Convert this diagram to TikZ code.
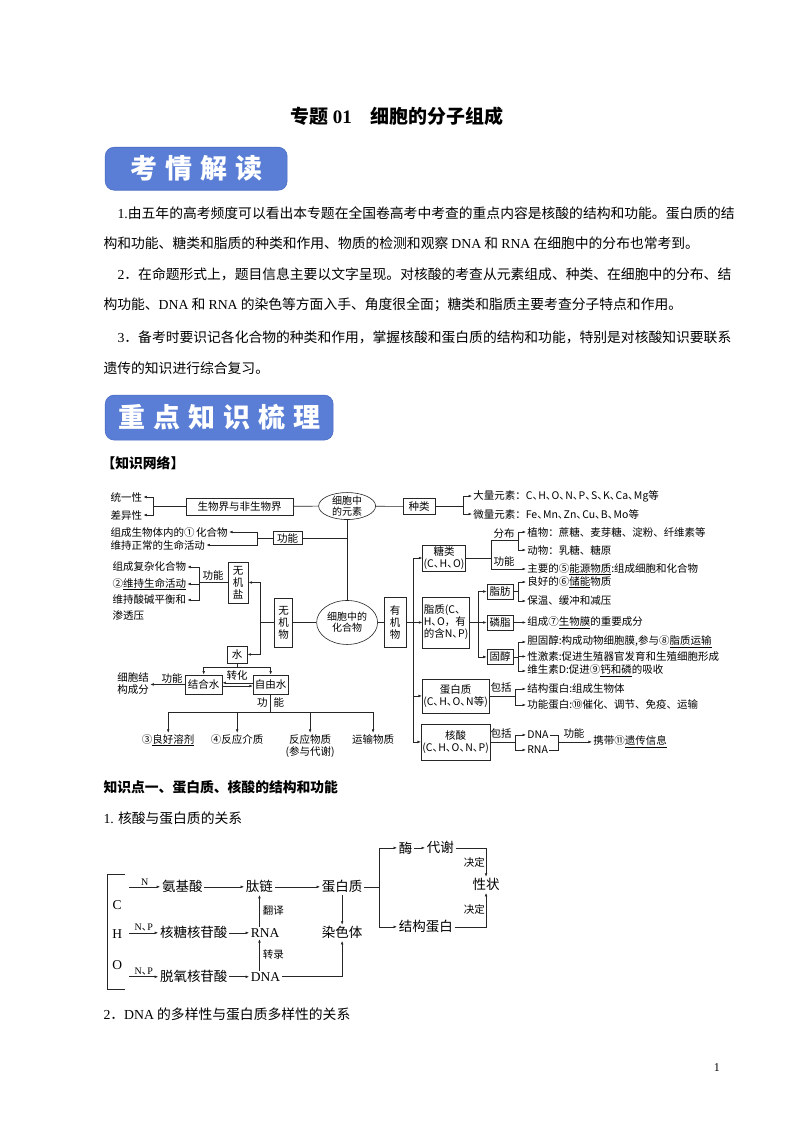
\documentclass[tikz,border=0pt]{standalone}
\usepackage{fontspec}
\setmainfont{Noto Sans CJK SC}
\newfontfamily\lat{Liberation Serif}
\usepackage{xcolor}
\usepackage{tikz}
\usetikzlibrary{arrows.meta,shapes.geometric}
\definecolor{banblue}{HTML}{5A7ED6}
\definecolor{banedge}{HTML}{4A6CC4}
\XeTeXlinebreaklocale "zh"
\XeTeXlinebreakskip=0pt plus 2pt minus 0.3pt
\newcommand\nsz{\fontsize{10.5}{12}\selectfont}
\newcommand\bsz{\fontsize{13.8}{16}\selectfont}
\newcommand\dsz{\fontsize{13.5}{15}\selectfont}
\newcommand\jline[1]{\makebox[618pt][s]{#1}}
\newcommand\dun{、\kern-0.45em}
\tikzset{
  box/.style={draw, inner sep=1pt, font=\nsz, align=center},
  ell/.style={draw, ellipse, inner xsep=0pt, inner ysep=-2pt, font=\fontsize{10}{11}\selectfont, align=center},
  lbl/.style={font=\nsz, inner sep=1pt, anchor=west},
  tag/.style={font=\nsz, inner sep=1pt},
  banner/.style={fill=banblue, draw=banedge, rounded corners=9pt, text=white, font=\bfseries\fontsize{27}{27}\selectfont},
  para/.style={font=\bsz, inner sep=0pt, anchor=west},
  dg/.style={font=\dsz, inner sep=1.5pt},
  sm/.style={font=\fontsize{10}{10}\selectfont, inner sep=1pt},
}

\begin{document}
\begin{tikzpicture}[x=1pt, y=-1pt, >={Latex[length=3.5pt,width=2.6pt]}, every path/.style={line width=0.6pt, draw=black!85}]
  \fill[white, use as bounding box] (0,0) rectangle (794,1122);

  % Kopf
  \node[font=\bfseries\fontsize{19}{20}\selectfont] (title) at (397,116) {专题 {\lat 01}\quad 细胞的分子组成};
  \node[banner, minimum width=182, minimum height=43] (ban1) at (196,168.5) {考\hspace{8pt}情\hspace{8pt}解\hspace{8pt}读};

  % Absaetze
  \node[para] (p1) at (117,213) {\jline{{\lat 1.}由五年的高考频度可以看出本专题在全国卷高考中考查的重点内容是核酸的结构和功能。蛋白质的结}};
  \node[para] (p2) at (103,243) {构和功能、糖类和脂质的种类和作用、物质的检测和观察 {\lat DNA} 和 {\lat RNA} 在细胞中的分布也常考到。};
  \node[para] (p3) at (117,274) {\jline{{\lat 2}．在命题形式上，题目信息主要以文字呈现。对核酸的考查从元素组成、种类、在细胞中的分布、结}};
  \node[para] (p4) at (103,305) {构功能、{\lat DNA} 和 {\lat RNA} 的染色等方面入手、角度很全面；糖类和脂质主要考查分子特点和作用。};
  \node[para] (p5) at (117,337) {\jline{{\lat 3}．备考时要识记各化合物的种类和作用，掌握核酸和蛋白质的结构和功能，特别是对核酸知识要联系}};
  \node[para] (p6) at (103,368) {遗传的知识进行综合复习。};

  \node[banner, minimum width=228, minimum height=45] (ban2) at (219,417.5) {重\hspace{8pt}点\hspace{8pt}知\hspace{8pt}识\hspace{8pt}梳\hspace{8pt}理};
  \node[para, font=\bfseries\bsz] (netz) at (101,463) {【知识网络】};

  % Netz: Elemente
  \node[lbl] (tyx) at (109,497) {统一性};
  \node[lbl] (cyx) at (109,515) {差异性};
  \node[box, minimum width=107, minimum height=17] (bio) at (239.5,506.5) {生物界与非生物界};
  \node[ell, minimum width=57, minimum height=27] (yuansu) at (347,506) {细胞中\\的元素};
  \node[box, minimum width=32, minimum height=16] (zhonglei) at (419,506.5) {种类};
  \node[lbl] (dl) at (472,496) {大量元素：C\dun H\dun O\dun N\dun P\dun S\dun K\dun Ca\dun Mg等};
  \node[lbl] (wl) at (472,514) {微量元素：Fe\dun Mn\dun Zn\dun Cu\dun B\dun Mo等};
  \node[box, minimum width=29, minimum height=13] (gn1) at (287.5,538) {功能};
  \node[lbl] (f1) at (109,532) {组成生物体内的①\,化合物};
  \node[lbl] (f2) at (109,545) {维持正常的生命活动};

  % Netz: anorganisch
  \node[box, minimum width=20, minimum height=41] (wjy) at (238,582.5) {无\\机\\盐};
  \node[tag] (gnlbl) at (213,576) {功能};
  \node[lbl] (s1) at (111,567) {组成复杂化合物};
  \node[lbl] (s2) at (111,584) {②\underline{维持生命活动}};
  \node[lbl] (s3) at (111,600) {维持酸碱平衡和};
  \node[lbl] (s4) at (111,616) {渗透压};
  \node[box, minimum width=18, minimum height=49] (wjw) at (283.5,622.5) {无\\机\\物};
  \node[ell, minimum width=61, minimum height=44] (hhw) at (347,622.5) {细胞中的\\化合物};
  \node[box, minimum width=22, minimum height=50] (yjw) at (395,622.5) {有\\机\\物};

  \node[box, minimum width=20, minimum height=17] (shui) at (237,654.5) {水};
  \node[box, minimum width=37, minimum height=19] (jhs) at (203.5,684.5) {结合水};
  \node[box, minimum width=35, minimum height=19] (zys) at (270.5,684.5) {自由水};
  \node[tag] (zh) at (237,676) {转化};
  \node[tag] (gn4) at (172,679) {功能};
  \node[tag, align=center, font=\fontsize{10.5}{12}\selectfont] (xbjg) at (133,684) {细胞结\\构成分};
  \node[tag] (gn5) at (270.5,703) {功\hspace{6pt}能};
  \node[tag, anchor=north] (r1) at (168,733) {③\underline{良好溶剂}};
  \node[tag, anchor=north] (r2) at (237,733) {④反应介质};
  \node[tag, anchor=north, align=center] (r3) at (310,733) {反应物质\\(参与代谢)};
  \node[tag, anchor=north] (r4) at (373,733) {运输物质};

  % Netz: organisch
  \node[box, minimum width=42, minimum height=26] (tl) at (444,558) {糖类\\(C\dun H\dun O)};
  \node[box, minimum width=46, minimum height=51, align=left] (zz) at (446,622.5) {脂质(C\dun\\H\dun O，有\\的含N\dun P)};
  \node[box, minimum width=65, minimum height=34] (dbz) at (455.5,696) {蛋白质\\(C\dun H\dun O\dun N等)};
  \node[box, minimum width=65, minimum height=36] (hs) at (455.5,742) {核酸\\(C\dun H\dun O\dun N\dun P)};

  \node[tag] (fb) at (504,533) {分布};
  \node[tag] (gn2) at (504,561) {功能};
  \node[lbl] (zw) at (526,532) {植物：蔗糖、麦芽糖、淀粉、纤维素等};
  \node[lbl] (dw) at (526,550) {动物：乳糖、糖原};
  \node[lbl] (ny) at (526,569) {主要的⑤\underline{能源物质}:组成细胞和化合物};

  \node[box, minimum width=26, minimum height=15] (zf) at (500,591.5) {脂肪};
  \node[box, minimum width=26, minimum height=15] (lz) at (500,622.5) {磷脂};
  \node[box, minimum width=26, minimum height=15] (gc) at (500,657) {固醇};
  \node[lbl] (cn) at (526,582) {良好的⑥\underline{储能}物质};
  \node[lbl] (bw) at (526,601) {保温、缓冲和减压};
  \node[lbl] (sw) at (526,622.5) {组成⑦\underline{生物膜}的重要成分};
  \node[lbl] (dgc) at (526,642) {胆固醇:构成动物细胞膜,参与⑧\underline{脂质运输}};
  \node[lbl] (xjs) at (526,656.5) {性激素:促进生殖器官发育和生殖细胞形成};
  \node[lbl] (wss) at (526,671) {维生素D:促进⑨\underline{钙和磷}的吸收};

  \node[tag] (bk1) at (501,688) {包括};
  \node[lbl] (jg) at (526,689) {结构蛋白:组成生物体};
  \node[lbl] (gndb) at (526,705) {功能蛋白:⑩催化、调节、免疫、运输};
  \node[tag] (bk2) at (501,734) {包括};
  \node[lbl] (dna) at (526,735) {DNA};
  \node[lbl] (rna) at (526,750) {RNA};
  \node[tag] (gn3) at (574,734) {功能};
  \node[lbl] (xd) at (592,742) {携带⑪\underline{遗传信息}};

  % Netz: Verbindungen
  \coordinate (br1) at (153,506.5);
  \coordinate (br2) at (463,506.5);
  \coordinate (br3) at (257,538);
  \coordinate (br4) at (199,582.5);
  \coordinate (j1) at (260,622.5);
  \coordinate (j2) at (413,622.5);
  \coordinate (j3) at (491,558);
  \coordinate (fbc) at (518,540);
  \coordinate (j4) at (478,622.5);
  \coordinate (br5) at (518,591.5);
  \coordinate (br6) at (518,657);
  \coordinate (br7) at (515,696);
  \coordinate (br8) at (515,742);
  \coordinate (br9) at (558,742);
  \coordinate (j5) at (237,667);
  \coordinate (j6) at (270.5,712);

  \draw (bio) -- (br1);
  \draw[->] (br1) |- (tyx.east);
  \draw[->] (br1) |- (cyx.east);
  \draw (bio) -- (yuansu);
  \draw (yuansu) -- (zhonglei);
  \draw (zhonglei) -- (br2);
  \draw[->] (br2) |- (dl.west);
  \draw[->] (br2) |- (wl.west);
  \draw (yuansu) -- (hhw);
  \draw (gn1.east) -- (gn1.east -| yuansu.south);
  \draw (gn1) -- (br3);
  \draw[->] (br3) |- (f1.east);
  \draw[->] (br3) |- (f2.east);

  \draw (wjy) -- (br4);
  \draw[->] (br4) |- (s1.east);
  \draw[->] (br4) |- (s2.east);
  \draw[->] (br4) |- (s3.east);
  \draw (wjw) -- (j1);
  \draw[->] (j1) |- (wjy.east);
  \draw[->] (j1) |- (shui.east);
  \draw (wjw) -- (hhw);
  \draw (hhw) -- (yjw);

  \draw (shui) -- (j5);
  \draw[->] (j5) -| (jhs.north);
  \draw[->] (j5) -| (zys.north);
  \draw[->] ([yshift=1.6pt]zys.west) -- ([yshift=1.6pt]jhs.east);
  \draw[->] ([yshift=-1.6pt]jhs.east) -- ([yshift=-1.6pt]zys.west);
  \draw[->] (jhs.west) -- (jhs.west -| xbjg.east);
  \draw (zys) -- (j6);
  \draw[->] (j6) -| (r1.north);
  \draw[->] (j6) -| (r2.north);
  \draw[->] (j6) -| (r3.north);
  \draw[->] (j6) -| (r4.north);

  \draw[->] (yjw) -- (zz);
  \draw[->] (j2) |- (tl.west);
  \draw[->] (j2) |- (dbz.west);
  \draw[->] (j2) |- (hs.west);

  \draw (tl) -- (j3);
  \draw (j3) |- (fbc);
  \draw[->] (fbc) |- (zw.west);
  \draw[->] (fbc) |- (dw.west);
  \draw[->] (j3) |- (ny.west);

  \draw[->] (zz) -- (lz);
  \draw[->] (j4) |- (zf.west);
  \draw[->] (j4) |- (gc.west);
  \draw (zf) -- (br5);
  \draw[->] (br5) |- (cn.west);
  \draw[->] (br5) |- (bw.west);
  \draw[->] (lz) -- (sw);
  \draw (gc) -- (br6);
  \draw[->] (br6) |- (dgc.west);
  \draw[->] (br6) |- (xjs.west);
  \draw[->] (br6) |- (wss.west);

  \draw (dbz) -- (br7);
  \draw[->] (br7) |- (jg.west);
  \draw[->] (br7) |- (gndb.west);
  \draw (hs) -- (br8);
  \draw[->] (br8) |- (dna.west);
  \draw[->] (br8) |- (rna.west);
  \draw (dna.east) -| (br9);
  \draw (rna.east) -| (br9);
  \draw[->] (br9) -- (xd.west);

  % Abschnitt 1
  \node[para, font=\bfseries\bsz] (kp1) at (103,787) {知识点一、蛋白质、核酸的结构和功能};
  \node[para] (t1) at (103,818) {{\lat 1.} 核酸与蛋白质的关系};

  % Schema Nukleinsaeure/Protein
  \draw (125,874) -| (107,990) -- (125,990);
  \node[dg, font=\lat\dsz] (c) at (117,905) {C};
  \node[dg, font=\lat\dsz] (h) at (117,934) {H};
  \node[dg, font=\lat\dsz] (o) at (117,965) {O};
  \coordinate (e1) at (129,887);
  \coordinate (e2) at (129,933);
  \coordinate (e3) at (129,977);

  \node[dg, anchor=west] (aa) at (160,887) {氨基酸};
  \node[dg, anchor=west] (tl2) at (244,887) {肽链};
  \node[dg, anchor=west] (dbz2) at (320,887) {蛋白质};
  \node[dg, anchor=west] (mei) at (397,848) {酶};
  \node[dg, anchor=west] (dx) at (425,848) {代谢};
  \node[dg] (xz) at (486,885) {性状};
  \node[dg, anchor=west] (jgdb) at (397,927) {结构蛋白};
  \node[dg, anchor=west] (hth) at (158,933) {核糖核苷酸};
  \node[dg, anchor=west, font=\lat\dsz] (rna2) at (249,933) {RNA};
  \node[dg] (ran) at (342,933) {染色体};
  \node[dg, anchor=west] (tyh) at (158,977) {脱氧核苷酸};
  \node[dg, anchor=west, font=\lat\dsz] (dna2) at (249,977) {DNA};
  \coordinate (j7) at (379,887);

  \draw[->] (e1) -- node[sm, above] {\lat N} (aa.west);
  \draw[->] (e2) -- node[sm, above] {{\lat N}\dun{\lat P}} (hth.west);
  \draw[->] (e3) -- node[sm, above] {{\lat N}\dun{\lat P}} (tyh.west);
  \draw[->] (aa) -- (tl2);
  \draw[->] (tl2) -- (dbz2);
  \draw (dbz2) -- (j7);
  \draw[->] (j7) |- (mei.west);
  \draw[->] (j7) |- (jgdb.west);
  \draw[->] (mei) -- (dx);
  \draw[->] (dx.east) -| node[pos=0.75, left, tag] {决定} (xz.north);
  \draw[->] (jgdb.east) -| node[pos=0.75, left, tag] {决定} (xz.south);
  \draw[->] (hth) -- (rna2);
  \draw[->] (tyh) -- (dna2);
  \draw[->] (tl2.south |- rna2.north) -- node[right, tag, xshift=2pt] {翻译} (tl2.south);
  \draw[->] (tl2.south |- dna2.north) -- node[right, tag, xshift=2pt] {转录} (tl2.south |- rna2.south);
  \draw[->] (dna2.east) -| (ran.south);
  \draw[->] (dbz2.south) -- (dbz2.south |- ran.north);

  \node[para] (t2) at (103,1015) {{\lat 2}．{\lat DNA} 的多样性与蛋白质多样性的关系};
  \node[font=\lat\fontsize{12}{12}\selectfont] (pg) at (717,1068) {1};
\end{tikzpicture}
\end{document}
